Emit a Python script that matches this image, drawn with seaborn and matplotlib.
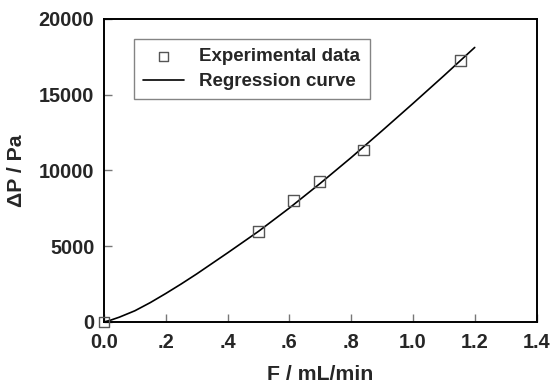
import matplotlib
matplotlib.use("Agg")
import matplotlib.pyplot as plt
import seaborn as sns
import pandas as pd

flow = [0.0, 0.5, 0.613, 0.698, 0.841, 1.155]
dp = [0, 5950, 8000, 9260, 11350, 17230]

# regression curve
curve_flow = [0.0, 0.02, 0.05, 0.1, 0.15, 0.2, 0.25, 0.3, 0.4, 0.5, 0.6, 0.7,
              0.8, 0.9, 1.0, 1.1, 1.2]
curve_dp = [0, 110, 320, 740, 1280, 1880, 2510, 3170, 4560, 5980, 7520, 9150,
            10850, 12620, 14420, 16250, 18120]

xtick_vals = [0.0, 0.2, 0.4, 0.6, 0.8, 1.0, 1.2, 1.4]
xtick_labels = ["0.0", ".2", ".4", ".6", ".8", "1.0", "1.2", "1.4"]
ytick_vals = [0, 5000, 10000, 15000, 20000]

sns.set_style("ticks")
plt.rcParams["font.family"] = ["Liberation Sans", "DejaVu Sans"]
plt.rcParams["font.weight"] = "bold"

fig = plt.figure(figsize=(5.51, 3.87), dpi=100)
ax = fig.add_axes([0.1887, 0.168, 0.785, 0.783])

df_pts = pd.DataFrame({"F": flow, "dP": dp})
df_curve = pd.DataFrame({"F": curve_flow, "dP": curve_dp})

sns.lineplot(data=df_curve, x="F", y="dP", ax=ax, color="black", linewidth=1.2,
             label="Regression curve", zorder=2)
sns.scatterplot(data=df_pts, x="F", y="dP", ax=ax, marker="s", s=62,
                facecolors="none", edgecolors="#555555", linewidth=1.0,
                label="Experimental data", clip_on=False, zorder=3)

ax.set_xlim(0, 1.4)
ax.set_ylim(0, 20000)
ax.set_xticks(xtick_vals)
ax.set_xticklabels(xtick_labels)
ax.set_yticks(ytick_vals)
ax.tick_params(axis="both", direction="in", length=6, width=1, color="#777777",
               labelsize=14.3, top=False, right=False)
ax.tick_params(axis="x", pad=8)
ax.tick_params(axis="y", pad=7)
for lab in ax.get_xticklabels() + ax.get_yticklabels():
    lab.set_fontweight("bold")
for sp in ax.spines.values():
    sp.set_visible(True)
    sp.set_linewidth(1.4)
    sp.set_color("black")

ax.set_xlabel("F / mL/min", fontsize=15.3, fontweight="bold", labelpad=9)
ax.set_ylabel("ΔP / Pa", fontsize=15.3, fontweight="bold", labelpad=9)

handles, labels = ax.get_legend_handles_labels()
order = [labels.index("Experimental data"), labels.index("Regression curve")]
leg = ax.legend([handles[i] for i in order], [labels[i] for i in order],
                loc="upper left", bbox_to_anchor=(0.069, 0.934), borderaxespad=0,
                frameon=True, fancybox=False, edgecolor="#666666",
                prop={"size": 13.5, "weight": "bold"}, handlelength=2.2,
                handletextpad=0.8, borderpad=0.5, labelspacing=0.4,
                markerscale=0.8)
leg.get_frame().set_linewidth(1.0)

fig.savefig("out.png", dpi=100)
